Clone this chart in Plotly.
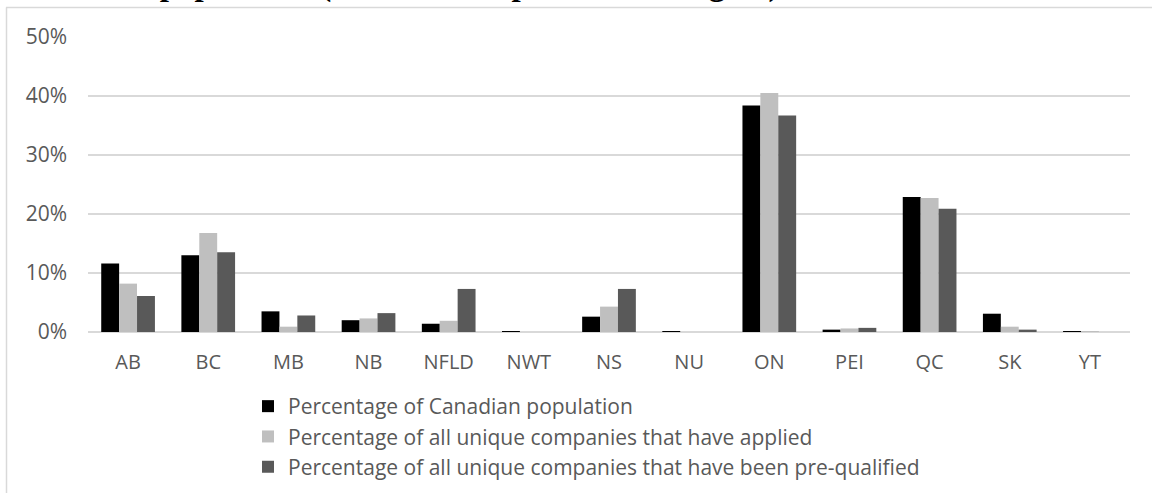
import plotly.graph_objects as go

# Province / territory categories
provinces = ["AB", "BC", "MB", "NB", "NFLD", "NWT", "NS", "NU", "ON", "PEI", "QC", "SK", "YT"]

# Shares in percent
pct_population = [11.6, 13.0, 3.5, 2.0, 1.4, 0.1, 2.6, 0.1, 38.4, 0.4, 22.9, 3.1, 0.1]
pct_applied = [8.2, 16.8, 0.9, 2.3, 1.9, 0.0, 4.3, 0.0, 40.5, 0.6, 22.7, 0.9, 0.05]
pct_prequalified = [6.1, 13.5, 2.8, 3.2, 7.3, 0.0, 7.3, 0.0, 36.7, 0.7, 20.9, 0.4, 0.0]

series_names = [
    "Percentage of Canadian population",
    "Percentage of all unique companies that have applied",
    "Percentage of all unique companies that have been pre-qualified",
]
series_colors = ["#000000", "#bfbfbf", "#595959"]

W, H = 1152, 493
ML, MR, MT, MB = 88, 22, 37, 161
PW, PH = W - ML - MR, H - MT - MB


def px_x(p):
    return (p - ML) / PW


def px_y(p):
    return (H - MB - p) / PH


fig = go.Figure()
for i, (name, vals, col) in enumerate(
    zip(series_names, [pct_population, pct_applied, pct_prequalified], series_colors)
):
    fig.add_trace(
        go.Bar(
            x=provinces,
            y=[v / 100 for v in vals],
            name=name,
            marker=dict(color=col, line=dict(width=0)),
            legendgroup=f"g{i}",
        )
    )

font_family = "'Open Sans', sans-serif"

fig.update_layout(
    width=W,
    height=H,
    margin=dict(l=ML, r=MR, t=MT, b=MB, autoexpand=False),
    paper_bgcolor="white",
    plot_bgcolor="white",
    barmode="group",
    bargap=0.33,
    bargroupgap=0,
    font=dict(family=font_family, color="#595959", size=20),
    xaxis=dict(
        showgrid=False,
        showline=False,
        ticks="",
        tickfont=dict(size=20, color="#595959"),
        ticklabelstandoff=16,
        automargin=False,
        fixedrange=True,
    ),
    yaxis=dict(
        range=[0, 0.5],
        dtick=0.1,
        tickformat=".0%",
        showgrid=True,
        gridcolor="#d9d9d9",
        gridwidth=1.5,
        zeroline=True,
        zerolinecolor="#d9d9d9",
        zerolinewidth=1.5,
        ticks="",
        tickfont=dict(size=21, color="#595959"),
        ticklabelstandoff=20,
        automargin=False,
        fixedrange=True,
    ),
    legend=dict(
        orientation="v",
        x=px_x(248),
        y=px_y(386),
        xanchor="left",
        yanchor="top",
        font=dict(size=21, color="#595959"),
        tracegroupgap=0,
        itemwidth=30,
        bgcolor="rgba(0,0,0,0)",
    ),
    showlegend=True,
)

# Chart frame (top and left edges)
frame = "#d9d9d9"
fig.add_shape(type="line", xref="paper", yref="paper",
              x0=px_x(6), x1=px_x(W + 5), y0=px_y(7.5), y1=px_y(7.5),
              line=dict(color=frame, width=1.5))
fig.add_shape(type="line", xref="paper", yref="paper",
              x0=px_x(6.5), x1=px_x(6.5), y0=px_y(7.5), y1=px_y(H + 5),
              line=dict(color=frame, width=1.5))

# Heading text running off the top edge
fig.add_annotation(
    text="relative to population (Calls for Proposals 1 through 4)",
    xref="paper", yref="paper",
    x=px_x(8), y=px_y(5),
    xanchor="left", yanchor="bottom",
    showarrow=False,
    font=dict(family="'Liberation Serif', serif", size=33, color="#000000", weight="bold"),
)

fig.write_html("out.html")
